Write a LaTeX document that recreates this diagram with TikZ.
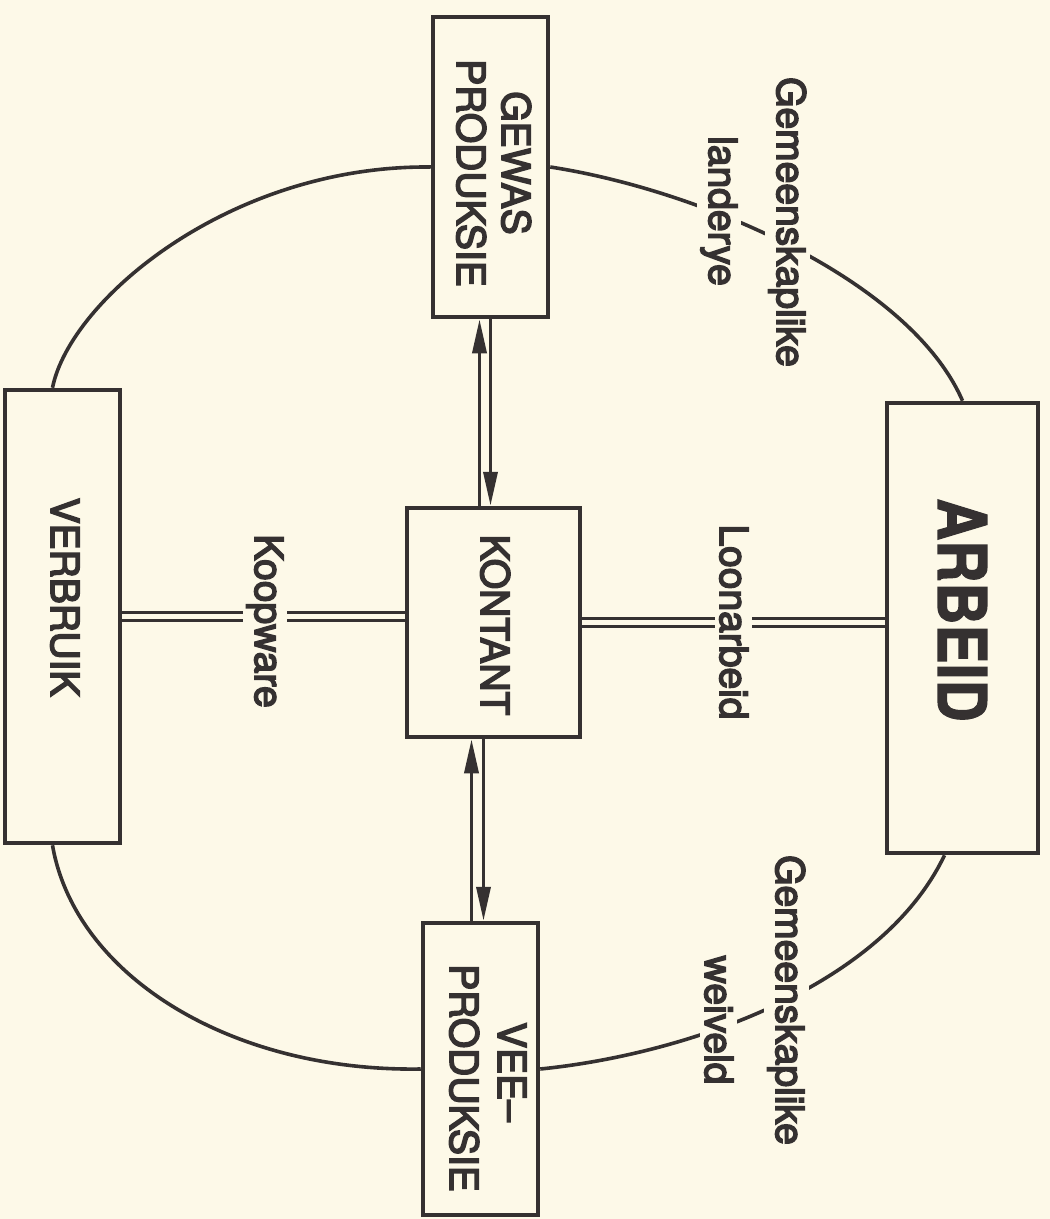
\documentclass[tikz,border=0pt]{standalone}
\usepackage{fontspec}
\setmainfont{TeX Gyre Heros}
\newfontfamily\medfont[FakeBold=4]{TeX Gyre Heros}
\newfontfamily\heavyfont[FakeBold=2]{TeX Gyre Heros Bold}
\usetikzlibrary{arrows.meta}
\definecolor{paper}{HTML}{FDF9E8}
\definecolor{ink}{HTML}{353131}
\begin{document}
\begin{tikzpicture}[x=1pt,y=-1pt,
  boxs/.style={draw=ink,line width=4.5pt,fill=paper,inner sep=0pt},
  conn/.style={draw=ink,line width=3.6pt},
  dbl/.style={draw=ink,line width=3pt,double=paper,double distance=5pt},
  tip/.style={-{Triangle[length=34pt,width=14pt]}},
  lbl/.style={rotate=-90,anchor=base,inner sep=0pt,text=ink,font=\medfont\fontsize{39}{46}\selectfont},
  mask/.style={lbl,fill=paper,inner sep=4pt}]
\useasboundingbox (0,0) rectangle (1050,1219);
\fill[paper] (0,0) rectangle (1050,1219);

% boxes
\node[boxs,minimum width=115pt,minimum height=300pt] (gewas) at (490.5,167) {};
\node[boxs,minimum width=173pt,minimum height=229pt] (kontant) at (493.5,622.5) {};
\node[boxs,minimum width=115pt,minimum height=292pt] (vee) at (480.5,1069) {};
\node[boxs,minimum width=151pt,minimum height=450pt] (arbeid) at (962.5,628) {};
\node[boxs,minimum width=115pt,minimum height=453pt] (verbruik) at (62.5,616.5) {};

% outer loop
\draw[conn] (gewas.west) .. controls (230,165) and (70,300) .. ([xshift=-10pt]verbruik.north);
\draw[conn] ([xshift=-10pt]verbruik.south) .. controls (75,975) and (230,1072) .. (vee.west);
\draw[conn] (gewas.east) .. controls (700,190) and (910,280) .. (arbeid.north);
\draw[conn] (vee.east) .. controls (680,1055) and (880,990) .. ([xshift=-18pt]arbeid.south);

% double lines
\draw[dbl] (kontant.east) -- (kontant.east -| arbeid.west);
\coordinate (kw) at ([yshift=6pt]kontant.west);
\draw[dbl] (kw) -- (kw -| verbruik.east);

% arrows
\coordinate (g1) at ([xshift=-11pt]gewas.south);
\coordinate (g2) at (gewas.south);
\draw[conn,tip] (g1 |- kontant.north) -- (g1);
\draw[conn,tip] (g2) -- (g2 |- kontant.north);
\coordinate (k1) at ([xshift=-22pt]kontant.south);
\coordinate (k2) at ([xshift=-10pt]kontant.south);
\draw[conn,tip] (k1 |- vee.north) -- (k1);
\draw[conn,tip] (k2) -- (k2 |- vee.north);

% labels on connectors
\node[mask] (lg1) at (777,222) {Gemeenskaplike};
\node[mask] (lland) at (709,211) {landerye};
\node[mask] (lg2) at (776,1000) {Gemeenskaplike};
\node[mask] (lwei) at (705,1020) {weiveld};
\node[mask] (lloon) at (720,622) {Loonarbeid};
\node[mask] (lkoop) at (255,621) {Koopware};

% box texts
\node[lbl] (tg1) at (502,163) {GEWAS};
\node[lbl] (tg2) at (457,173) {PRODUKSIE};
\node[lbl] (tk) at (481,625) {KONTANT};
\node[lbl] (tv1) at (498,1072) {VEE–};
\node[lbl] (tv2) at (450,1078) {PRODUKSIE};
\node[lbl] (tvb) at (51,597) {VERBRUIK};
\node[lbl,font=\heavyfont\fontsize{67}{80}\selectfont] (ta) at (938,610) {\scalebox{0.87}[1]{ARBEID}};
\end{tikzpicture}
\end{document}
